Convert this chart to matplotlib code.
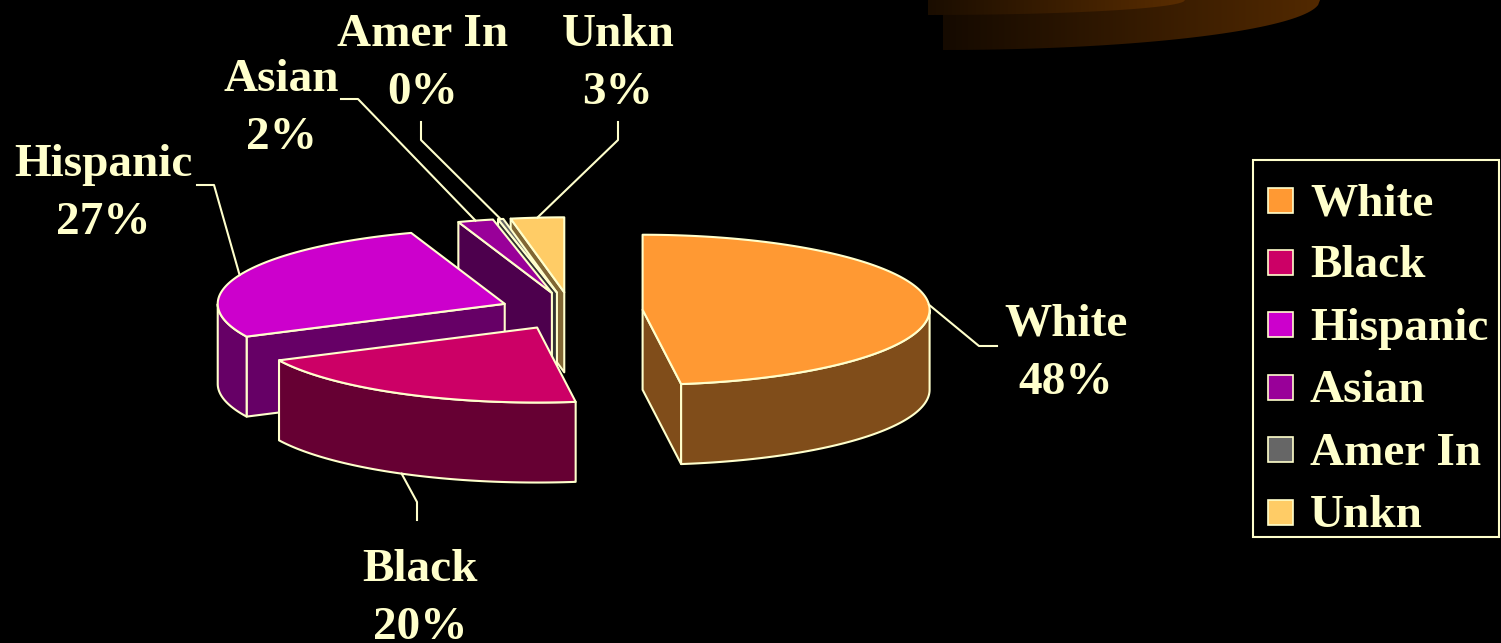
import numpy as np
import matplotlib
matplotlib.use("Agg")
import matplotlib.pyplot as plt
from matplotlib.patches import Polygon, Rectangle
from matplotlib.colors import to_rgb

# --- dane ---
labels = ["White", "Black", "Hispanic", "Asian", "Amer In", "Unkn"]
values = [48, 20, 27, 2, 0.3, 3]
colors = ["#FF9933", "#CC0066", "#CC00CC", "#990099", "#666666", "#FFCC66"]

# --- geometria / styl ---
W, H = 1501, 643
CX, CY = 571, 311          # srodek tortu (px)
RX, RY = 287, 75           # polosie elipsy
DEPTH = 80                 # grubosc
EXPLODE = 0.25
EDGE = "#FFFFCC"
FONT = "Liberation Serif"
FS = 34

# pozycje etykiet: (x, y pierwszej linii), lokiec linii, czy linia od dolu sciany
label_pos = {
    "White": (1066, 320, [(997, 346), (979, 346)], False),
    "Black": (420, 565, [(417, 520), (417, 502)], True),
    "Hispanic": (103, 160, [(197, 185), (214, 185)], False),
    "Asian": (281, 75, [(341, 99), (358, 99)], False),
    "Amer In": (423, 30, [(421, 122), (421, 140)], False),
    "Unkn": (618, 30, [(618, 122), (618, 140)], False),
}


def darker(c, f=0.5):
    r, g, b = to_rgb(c)
    return (r * f, g * f, b * f)


def ell(x0, y0, ang, r=1.0):
    a = np.radians(ang)
    return x0 + RX * r * np.cos(a), y0 - RY * r * np.sin(a)


fig = plt.figure(figsize=(W / 100, H / 100), dpi=100, facecolor="black")
ax = fig.add_axes([0, 0, 1, 1])
ax.set_xlim(0, W)
ax.set_ylim(H, 0)
ax.set_facecolor("black")
ax.axis("off")

# --- ozdobny brazowy luk w prawym gornym rogu ---
def swoosh(x0, x1, y0, c_left, c_right, z):
    xs = np.linspace(x0, x1, 200)
    ys = y0 * np.sqrt(np.clip(1 - ((xs - x0) / (x1 - x0)) ** 2, 0, 1))
    verts = [(x0, 0)] + list(zip(xs, ys)) + [(x1, 0)]
    poly = Polygon(verts, closed=True, facecolor="none", edgecolor="none")
    ax.add_patch(poly)
    grad = np.linspace(0, 1, 256)[None, :, None]
    img = np.array(to_rgb(c_left)) * (1 - grad) + np.array(to_rgb(c_right)) * grad
    im = ax.imshow(img, extent=(x0, x1, y0, 0), aspect="auto", zorder=z)
    im.set_clip_path(poly)

swoosh(943, 1320, 50, "#150a00", "#522900", 0.5)
swoosh(928, 1185, 15, "#1a0d00", "#5a2d00", 0.6)
ax.set_xlim(0, W)
ax.set_ylim(H, 0)

# --- kawalki tortu ---
total = sum(values)
fracs = np.array(values) / total
cum = np.concatenate([[0], np.cumsum(fracs)])
slices = []
for i, lab in enumerate(labels):
    hi = 90 - cum[i] * 360
    lo = 90 - cum[i + 1] * 360
    mid = (lo + hi) / 2
    ax0, ay0 = ell(CX, CY, mid, EXPLODE)
    slices.append(dict(lab=lab, lo=lo, hi=hi, mid=mid, ax=ax0, ay=ay0,
                       col=colors[i], pct=round(fracs[i] * 100)))

pkw = dict(edgecolor=EDGE, linewidth=1.5, joinstyle="round")
for s in sorted(slices, key=lambda d: d["ay"]):
    lo, hi, px, py = s["lo"], s["hi"], s["ax"], s["ay"]
    side = darker(s["col"])
    # sciany promieniowe
    for ang, normal in ((hi, hi + 90), (lo, lo - 90)):
        if np.sin(np.radians(normal)) < -1e-6:
            ox, oy = ell(px, py, ang)
            ax.add_patch(Polygon([(px, py), (ox, oy), (ox, oy + DEPTH), (px, py + DEPTH)],
                                 closed=True, facecolor=side, zorder=2, **pkw))
    # sciana zewnetrzna (przod)
    angs = np.linspace(lo, hi, 400)
    front = np.sin(np.radians(angs)) <= 0
    if front.any():
        idx = np.where(front)[0]
        groups = np.split(idx, np.where(np.diff(idx) > 1)[0] + 1)
        for g in groups:
            a = angs[g]
            xs, ys = ell(px, py, a)
            verts = list(zip(xs, ys)) + list(zip(xs[::-1], ys[::-1] + DEPTH))
            ax.add_patch(Polygon(verts, closed=True, facecolor=side, zorder=2, **pkw))
    # wierzch
    xs, ys = ell(px, py, np.linspace(lo, hi, 200))
    verts = [(px, py)] + list(zip(xs, ys))
    ax.add_patch(Polygon(verts, closed=True, facecolor=s["col"], zorder=2, **pkw))

# --- etykiety i linie ---
for s in slices:
    tx, ty, elbow, bottom = label_pos[s["lab"]]
    ex, ey = ell(s["ax"], s["ay"], s["mid"])
    if bottom:
        ey += DEPTH
    pts = elbow + [(ex, ey)]
    ax.plot([p[0] for p in pts], [p[1] for p in pts], color=EDGE, lw=1.5, zorder=3)
    ax.text(tx, ty + 16, s["lab"], ha="center", va="baseline", color=EDGE,
            fontsize=FS, fontweight="bold", family=FONT, zorder=4)
    ax.text(tx, ty + 58 + 16, f"{s['pct']}%", ha="center", va="baseline", color=EDGE,
            fontsize=FS, fontweight="bold", family=FONT, zorder=4)

# --- legenda ---
ax.add_patch(Rectangle((1253, 160), 246, 377, facecolor="black", edgecolor=EDGE,
                       linewidth=1.5, zorder=3))
for i, lab in enumerate(labels):
    yc = 200 + i * 62.4
    ax.add_patch(Rectangle((1268, yc - 12.5), 25, 25, facecolor=colors[i],
                           edgecolor=EDGE, linewidth=1.2, zorder=4))
    ax.text(1310, yc + 15, lab, ha="left", va="baseline", color=EDGE,
            fontsize=FS, fontweight="bold", family=FONT, zorder=4)

fig.savefig("out.png", dpi=100, facecolor="black")
